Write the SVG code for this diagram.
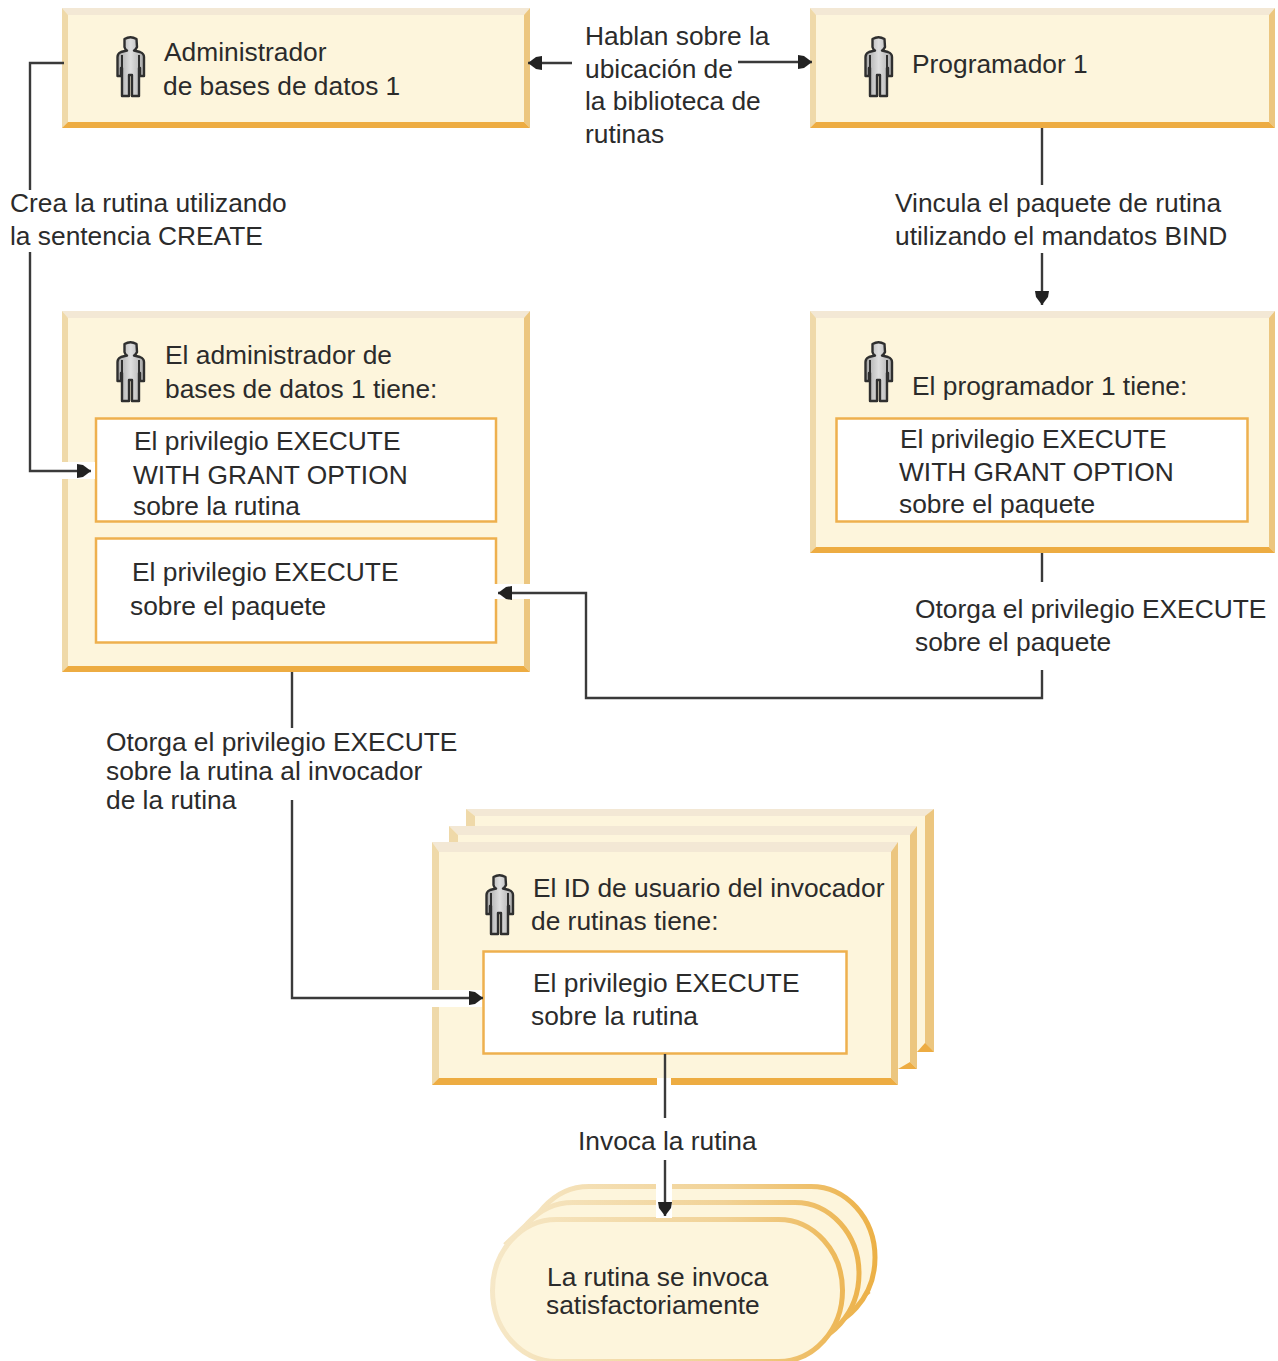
<svg xmlns="http://www.w3.org/2000/svg" xmlns:xlink="http://www.w3.org/1999/xlink" width="1278" height="1361" viewBox="0 0 1278 1361">
<style>
text{font-family:"Liberation Sans",Arial,sans-serif;font-size:26.35px;fill:#2b2b2b}
.face{fill:#fdf5dc}.t{fill:#f3e8d5}.l{fill:#efd9a9}.r{fill:#ecc67f}.b{fill:#edac42}
.inner{fill:#fff;stroke:#eeb04e;stroke-width:2.5}
.c{fill:none;stroke:#3a3a3a;stroke-width:2.4}
.halo{fill:#fff}
.st{fill:#fdf5dc;stroke:url(#sg);stroke-width:5}
.sf{fill:#fdf5dc}
</style>
<defs>
<linearGradient id="pg" x1="0" x2="1" y1="0" y2="0"><stop offset="0" stop-color="#a4a4a4"/><stop offset=".5" stop-color="#dedede"/><stop offset="1" stop-color="#a8a8a8"/></linearGradient>
<linearGradient id="sg" gradientUnits="userSpaceOnUse" x1="490" y1="1250" x2="877" y2="1270"><stop offset="0" stop-color="#f6e8c8"/><stop offset=".6" stop-color="#f1d296"/><stop offset="1" stop-color="#ecb045"/></linearGradient>
<marker id="ar" markerWidth="15" markerHeight="15" refX="14" refY="7" orient="auto" markerUnits="userSpaceOnUse"><path d="M0 0L6 1L14 7L6 13L0 14Z" fill="#222"/></marker>
<symbol id="person" width="30" height="64" viewBox="0 0 30 64" overflow="visible">
<path d="M8.500 4Q14.500 0.500 20.500 4L21 12Q20 14.500 18 15.500L24 17Q28 18.500 28 22V41H24V33H23V61H16V40H13V61H6V33H5V41H1.500V22Q1.500 18.500 5 17L11 15.500Q9 14.500 8.500 12Z" fill="url(#pg)" stroke="#2f2f2f" stroke-width="2.400" stroke-linejoin="round"/>
<path d="M6 20V33M23 20V33" fill="none" stroke="#2f2f2f" stroke-width="2"/>
</symbol>
</defs>

<g id="admin1">
<rect class="face" x="62" y="8" width="468" height="120"/>
<polygon class="t" points="62,8 530,8 524,15 68,15"/><polygon class="l" points="62,8 68,15 68,122 62,128"/><polygon class="r" points="530,8 530,128 524,122 524,15"/><polygon class="b" points="62,128 68,122 524,122 530,128"/>
<use xlink:href="#person" href="#person" x="116" y="35"/>
<text x="164" y="61">Administrador</text><text x="163" y="95">de bases de datos 1</text>
</g>
<g id="prog1">
<rect class="face" x="810" y="8" width="465" height="120"/>
<polygon class="t" points="810,8 1275,8 1269,15 816,15"/><polygon class="l" points="810,8 816,15 816,122 810,128"/><polygon class="r" points="1275,8 1275,128 1269,122 1269,15"/><polygon class="b" points="810,128 816,122 1269,122 1275,128"/>
<use xlink:href="#person" href="#person" x="864" y="35"/>
<text x="912" y="73">Programador 1</text>
</g>
<g id="admin2">
<rect class="face" x="62" y="311" width="468" height="361"/>
<polygon class="t" points="62,311 530,311 524,318 68,318"/><polygon class="l" points="62,311 68,318 68,666 62,672"/><polygon class="r" points="530,311 530,672 524,666 524,318"/><polygon class="b" points="62,672 68,666 524,666 530,672"/>
<use xlink:href="#person" href="#person" x="116" y="340"/>
<text x="165" y="364">El administrador de</text><text x="165" y="398">bases de datos 1 tiene:</text>
<rect class="inner" x="96" y="418.500" width="400" height="103"/>
<text x="134" y="450">El privilegio EXECUTE</text><text x="133" y="484">WITH GRANT OPTION</text><text x="133" y="515">sobre la rutina</text>
<rect class="inner" x="96" y="538.500" width="400" height="104"/>
<text x="132" y="581">El privilegio EXECUTE</text><text x="130" y="615">sobre el paquete</text>
</g>
<g id="prog2">
<rect class="face" x="810" y="311" width="465" height="242"/>
<polygon class="t" points="810,311 1275,311 1269,318 816,318"/><polygon class="l" points="810,311 816,318 816,547 810,553"/><polygon class="r" points="1275,311 1275,553 1269,547 1269,318"/><polygon class="b" points="810,553 816,547 1269,547 1275,553"/>
<use xlink:href="#person" href="#person" x="864" y="340"/>
<text x="912" y="395">El programador 1 tiene:</text>
<rect class="inner" x="836.500" y="418.500" width="411" height="103"/>
<text x="900" y="448">El privilegio EXECUTE</text><text x="899" y="481">WITH GRANT OPTION</text><text x="899" y="513">sobre el paquete</text>
</g>
<g id="invoker">
<rect class="face" x="466" y="809" width="468" height="243"/>
<polygon class="t" points="466,809 934,809 925,816 475,816"/><polygon class="l" points="466,809 475,816 475,826 466,826"/><polygon class="r" points="934,809 934,1052 925,1045 925,816"/><polygon class="b" points="917,1052 925,1043 934,1052"/>
<rect class="face" x="449" y="826" width="468" height="243"/>
<polygon class="t" points="449,826 917,826 910,835 458,835"/><polygon class="l" points="449,826 458,835 458,842 449,842"/><polygon class="r" points="917,826 917,1069 910,1062 910,835"/><polygon class="b" points="898,1069 910,1062 917,1069"/>
<rect class="face" x="432" y="842" width="466" height="243"/>
<polygon class="t" points="432,842 898,842 891,852 439,852"/><polygon class="l" points="432,842 439,852 439,1078 432,1085"/><polygon class="r" points="898,842 898,1085 891,1078 891,852"/><polygon class="b" points="432,1085 439,1078 891,1078 898,1085"/>
<use xlink:href="#person" href="#person" x="485" y="873"/>
<text x="533" y="897">El ID de usuario del invocador</text><text x="531" y="930">de rutinas tiene:</text>
<rect class="inner" x="483.500" y="951.500" width="363" height="102"/>
<text x="533" y="992">El privilegio EXECUTE</text><text x="531" y="1025">sobre la rutina</text>
</g>
<g id="result">
<polygon class="sf" points="542,1211 503,1247 843,1312 869,1292 820,1200"/>
<path d="M505 1245L544 1208" fill="none" stroke="#f5e4c0" stroke-width="5"/>
<path d="M841 1314L869 1291" fill="none" stroke="#ecb552" stroke-width="5"/>
<rect class="st" x="525" y="1186.500" width="350" height="142" rx="64" ry="71"/>
<rect class="st" x="509" y="1202.500" width="350" height="142" rx="64" ry="71"/>
<rect class="st" x="492.500" y="1219.500" width="350" height="142" rx="64" ry="71"/>
<text x="547" y="1286">La rutina se invoca</text><text x="546" y="1314">satisfactoriamente</text>
</g>
<g id="connectors">
<rect class="halo" x="62" y="462" width="33" height="17"/>
<rect class="halo" x="494" y="584" width="36" height="15"/>
<rect class="halo" x="432" y="990" width="50" height="17"/>
<rect class="halo" x="657" y="1078" width="14" height="8"/>
<rect class="halo" x="656" y="1182" width="16" height="36"/>
<path class="c" d="M64 63H30V190"/>
<path class="c" d="M30 252V471H91" marker-end="url(#ar)"/>
<path class="c" d="M572 63H528" marker-end="url(#ar)"/>
<path class="c" d="M738 62H812" marker-end="url(#ar)"/>
<path class="c" d="M1042 128V185"/>
<path class="c" d="M1042 253V305" marker-end="url(#ar)"/>
<path class="c" d="M1042 553V582"/>
<path class="c" d="M1042 670V698H586V593H498" marker-end="url(#ar)"/>
<path class="c" d="M292 672V728"/>
<path class="c" d="M292 800V998H483" marker-end="url(#ar)"/>
<path class="c" d="M665 1054V1118"/>
<path class="c" d="M665 1160V1216" marker-end="url(#ar)"/>
</g>
<g id="connector-labels">
<text x="585" y="45">Hablan sobre la</text><text x="585" y="78">ubicación de</text><text x="585" y="110">la biblioteca de</text><text x="585" y="143">rutinas</text>
<text x="10" y="212">Crea la rutina utilizando</text><text x="10" y="245">la sentencia CREATE</text>
<text x="895" y="212">Vincula el paquete de rutina</text><text x="895" y="245">utilizando el mandatos BIND</text>
<text x="915" y="618">Otorga el privilegio EXECUTE</text><text x="915" y="651">sobre el paquete</text>
<text x="106" y="751">Otorga el privilegio EXECUTE</text><text x="106" y="780">sobre la rutina al invocador</text><text x="106" y="809">de la rutina</text>
<text x="578" y="1150">Invoca la rutina</text>
</g>
</svg>
